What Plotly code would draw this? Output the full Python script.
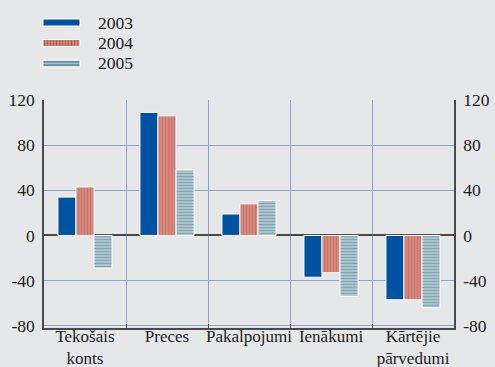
import plotly.graph_objects as go

# Balance of payments components, by year
categories = ["Tekošais<br>konts", "Preces", "Pakalpojumi", "Ienākumi", "Kārtējie<br>pārvedumi"]
years = ["2003", "2004", "2005"]
values_2003 = [34, 109, 19, -37, -57]
values_2004 = [43, 106, 28, -33, -57]
values_2005 = [-29, 58, 31, -54, -64]
y_ticks = [120, 80, 40, 0, -40, -80]
y_tick_labels = ["120", "80", "40", "0", "-40", "-80"]

BG = "#e6e7e9"
FONT = "Liberation Serif, Times New Roman, serif"
GRID = "#94a3d6"
AXIS = "#4a4a4a"
TXT = "#222222"
FS = 17.5

styles = [
    dict(color="#0052a2"),
    dict(color="#d98c7f", pattern=dict(shape="|", fgcolor="#bc5f53", size=3, solidity=0.5, fillmode="overlay")),
    dict(color="#adc5cd", pattern=dict(shape="-", fgcolor="#5b8a99", size=3, solidity=0.4, fillmode="overlay")),
]

fig = go.Figure()
for name, vals, st in zip(years, [values_2003, values_2004, values_2005], styles):
    fig.add_trace(go.Bar(
        x=categories, y=vals, name=name,
        marker=dict(line=dict(color="white", width=1), **st),
        showlegend=False,
    ))

# invisible trace anchoring the right-hand value axis
fig.add_trace(go.Scatter(x=categories, y=values_2003, yaxis="y2", mode="none",
                         showlegend=False, hoverinfo="skip"))

yr = [-82, 120]
tick_font = dict(family=FONT, size=FS, color=TXT)
fig.update_layout(
    width=495, height=367,
    margin=dict(l=44, r=41, t=100, b=39),
    paper_bgcolor=BG, plot_bgcolor=BG,
    font=dict(family=FONT, size=FS, color=TXT),
    barmode="group", bargap=0.34, bargroupgap=0.0,
    xaxis=dict(
        type="category", tickson="boundaries", showgrid=True, gridcolor=GRID, gridwidth=1,
        ticks="inside", ticklen=4, tickcolor=AXIS, showline=True, linecolor=AXIS, linewidth=1.5,
        tickangle=0, automargin=False, tickfont=dict(family=FONT, size=17, color=TXT),
        ticklabelstandoff=-8,
    ),
    yaxis=dict(
        range=yr, tickvals=y_ticks, ticktext=y_tick_labels, showgrid=True, gridcolor=GRID, gridwidth=1,
        zeroline=True, zerolinecolor=AXIS, zerolinewidth=1.5,
        showline=True, linecolor=AXIS, linewidth=1.5, ticks="", ticklabelstandoff=4,
        automargin=False, tickfont=tick_font,
    ),
    yaxis2=dict(
        range=yr, tickvals=y_ticks, ticktext=y_tick_labels, overlaying="y", side="right", showgrid=False,
        zeroline=False, showline=True, linecolor=AXIS, linewidth=1.5, ticks="",
        ticklabelstandoff=4, automargin=False, tickfont=tick_font,
    ),
)

# Legend: wide striped swatches with year labels
PW, PH, BOTTOM = 410.0, 228.0, 328.0

def px(x):
    return (x - 44) / PW

def py(y):
    return (BOTTOM - y) / PH

shapes = []
swatch_tops = [19, 39.5, 60]
for i, (year, st, top) in enumerate(zip(years, styles, swatch_tops)):
    x0, x1, y0, y1 = 43, 80, top, top + 7
    shapes.append(dict(type="rect", xref="paper", yref="paper", x0=px(x0), x1=px(x1),
                       y0=py(y1), y1=py(y0), fillcolor=st["color"],
                       line=dict(color="white", width=1)))
    if i == 1:
        xs = x0 + 1.5
        while xs < x1 - 0.5:
            shapes.append(dict(type="line", xref="paper", yref="paper", x0=px(xs), x1=px(xs),
                               y0=py(y1 - 0.5), y1=py(y0 + 0.5),
                               line=dict(color=st["pattern"]["fgcolor"], width=1.5)))
            xs += 3
    elif i == 2:
        for yy in (top + 2, top + 5):
            shapes.append(dict(type="line", xref="paper", yref="paper", x0=px(x0 + 0.5), x1=px(x1 - 0.5),
                               y0=py(yy), y1=py(yy),
                               line=dict(color=st["pattern"]["fgcolor"], width=1.5)))
    fig.add_annotation(x=px(96), y=py(top + 3.5), xref="paper", yref="paper", text=year,
                       showarrow=False, xanchor="left", yanchor="middle",
                       font=dict(family=FONT, size=FS, color=TXT))

fig.update_layout(shapes=shapes)
fig.write_html("out.html")
